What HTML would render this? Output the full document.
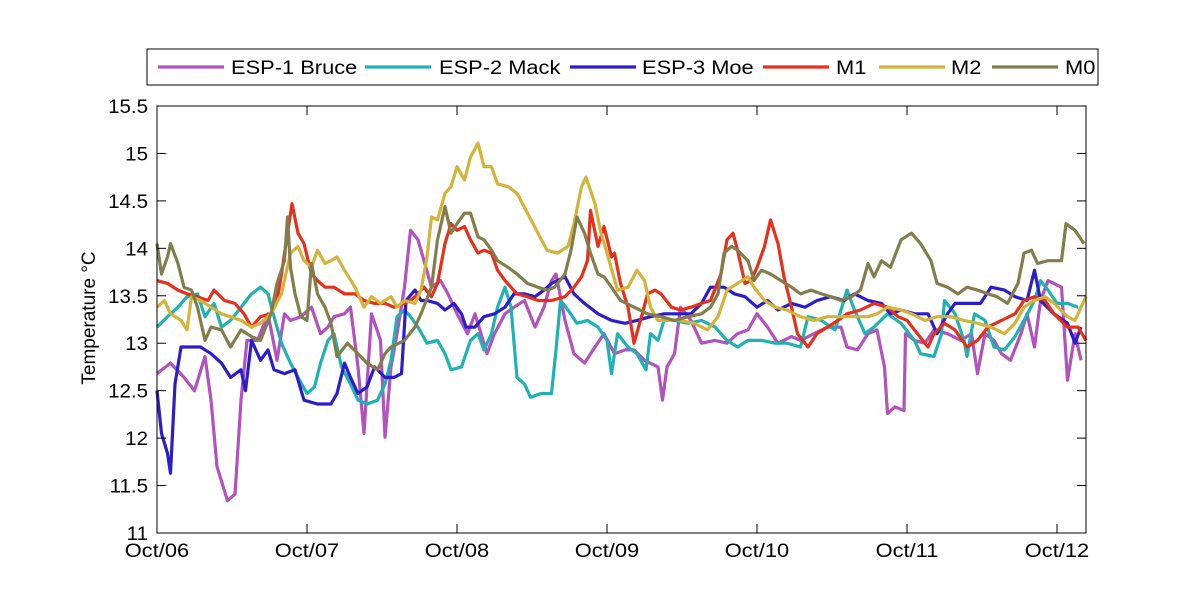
<!DOCTYPE html>
<html><head><meta charset="utf-8">
<style>
body{margin:0;background:#fff;}
svg text{font-family:"Liberation Sans",sans-serif;font-size:19px;fill:#000;}
</style></head>
<body>
<svg id="chart" width="1200" height="600" xmlns="http://www.w3.org/2000/svg">
<rect width="1200" height="600" fill="#fff"/>
<g id="series"></g>
<g id="axes"></g>
<g id="legend"></g>
</svg>
<script>
const xTickLabels=["Oct/06","Oct/07","Oct/08","Oct/09","Oct/10","Oct/11","Oct/12"];
const yTicks=[11,11.5,12,12.5,13,13.5,14,14.5,15,15.5];
const yTickLabels=["11","11.5","12","12.5","13","13.5","14","14.5","15","15.5"];
const seriesNames=["ESP-1 Bruce","ESP-2 Mack","ESP-3 Moe","M1","M2","M0"];
const seriesColors=["#b152bd","#20b2b2","#2c1dcc","#e6301c","#d3b43b","#837d4b"];

const bruceT=[0,.09,.18,.25,.32,.36,.40,.47,.52,.56,.60,.67,.74,.80,.85,.89,.96,1.03,1.09,1.14,1.18,1.25,1.29,1.34,1.38,1.43,1.49,1.52,1.56,1.60,1.65,1.69,1.74,1.78,1.83,1.89,1.94,2.0,2.07,2.12,2.16,2.20,2.25,2.32,2.38,2.45,2.52,2.58,2.63,2.66,2.72,2.78,2.85,2.92,2.98,
3.05,3.12,3.18,3.25,3.34,3.37,3.40,3.45,3.49,3.56,3.63,3.72,3.80,3.87,3.94,4.0,4.07,4.14,4.23,4.29,4.38,4.47,4.56,4.60,4.67,4.74,4.80,4.85,4.87,4.92,4.98,4.99,5.05,5.12,5.18,5.27,5.36,5.43,5.47,5.52,5.58,5.63,5.69,5.76,5.80,5.85,5.89,5.94,6.03,6.07,6.12,6.16];
const bruceV=[12.68,12.79,12.64,12.50,12.86,12.40,11.70,11.34,11.41,12.40,13.03,13.03,13.31,12.82,13.31,13.24,13.28,13.38,13.10,13.17,13.28,13.31,13.38,12.75,12.05,13.31,13.03,12.01,12.75,13.10,13.59,14.19,14.09,13.87,13.59,13.66,13.52,13.31,13.10,13.31,13.10,12.89,13.10,13.31,13.38,13.45,13.17,13.38,13.66,13.73,13.24,12.89,12.79,12.96,13.10,
12.89,12.93,12.93,12.82,12.75,12.40,12.75,12.89,13.38,13.24,13.0,13.03,13.0,13.10,13.14,13.31,13.17,13.0,13.07,13.03,13.10,13.17,13.17,12.96,12.93,13.10,13.14,12.75,12.26,12.33,12.29,13.10,13.03,13.0,13.14,13.10,13.03,13.10,12.68,13.10,13.03,12.89,12.82,13.10,13.31,12.96,13.45,13.66,13.59,12.61,13.10,12.82];

const mackT=[0,.07,.14,.20,.27,.32,.38,.43,.49,.56,.63,.69,.74,.78,.83,.89,.94,1.0,1.05,1.09,1.14,1.18,1.23,1.29,1.34,1.40,1.47,1.52,1.56,1.60,1.65,1.69,1.74,1.80,1.87,1.92,1.96,2.03,2.09,2.14,2.18,2.23,2.27,2.32,2.36,2.40,2.45,2.49,2.56,2.63,2.66,2.69,2.74,2.80,2.87,2.94,3.00,
3.03,3.07,3.14,3.20,3.26,3.29,3.34,3.38,3.45,3.54,3.63,3.72,3.80,3.87,3.94,4.03,4.12,4.20,4.29,4.34,4.43,4.52,4.60,4.65,4.72,4.78,4.87,4.96,5.05,5.09,5.18,5.23,5.25,5.32,5.38,5.40,5.45,5.52,5.58,5.65,5.72,5.78,5.85,5.89,5.94,6.0,6.07,6.14];
const mackV=[13.17,13.28,13.38,13.49,13.52,13.28,13.42,13.17,13.24,13.38,13.52,13.59,13.52,13.28,13.0,12.79,12.64,12.47,12.54,12.79,13.03,13.10,12.75,12.57,12.40,12.36,12.40,12.57,12.82,13.28,13.35,13.28,13.17,13.0,13.03,12.89,12.72,12.75,13.03,13.10,12.93,13.10,13.38,13.59,13.38,12.64,12.57,12.43,12.47,12.47,12.93,13.45,13.35,13.21,13.24,13.17,13.03,
12.68,13.10,12.96,12.89,12.72,13.10,13.03,13.24,13.24,13.21,13.24,13.17,13.03,12.96,13.03,13.03,13.0,13.0,12.96,13.28,13.24,13.14,13.56,13.35,13.10,13.17,13.31,13.21,13.03,12.89,12.86,13.10,13.45,13.31,13.03,12.86,13.31,13.24,12.96,12.93,13.07,13.24,13.45,13.66,13.56,13.42,13.42,13.38];

const moeT=[0,.03,.07,.09,.12,.16,.23,.29,.36,.43,.49,.56,.59,.63,.69,.74,.78,.85,.92,.98,1.07,1.16,1.20,1.25,1.29,1.34,1.40,1.45,1.52,1.58,1.63,1.66,1.72,1.76,1.80,1.87,1.92,1.98,2.03,2.06,2.12,2.18,2.25,2.32,2.38,2.45,2.52,2.58,2.63,2.67,2.72,2.78,2.85,2.94,3.03,
3.12,3.20,3.29,3.38,3.47,3.56,3.63,3.69,3.78,3.85,3.92,4.0,4.07,4.14,4.23,4.32,4.40,4.49,4.58,4.65,4.74,4.83,4.89,4.96,5.05,5.14,5.20,5.27,5.32,5.40,5.49,5.56,5.65,5.72,5.80,5.85,5.89,5.98,6.07,6.12,6.16];
const moeV=[12.50,12.05,11.84,11.63,12.57,12.96,12.96,12.96,12.89,12.79,12.64,12.72,12.50,13.03,12.82,12.93,12.72,12.68,12.72,12.40,12.36,12.36,12.47,12.79,12.64,12.47,12.54,12.75,12.64,12.64,12.68,13.45,13.56,13.45,13.45,13.42,13.35,13.42,13.31,13.17,13.17,13.28,13.31,13.38,13.52,13.52,13.49,13.56,13.63,13.66,13.70,13.52,13.42,13.31,13.24,
13.21,13.24,13.28,13.31,13.31,13.31,13.42,13.59,13.59,13.52,13.49,13.38,13.45,13.35,13.42,13.38,13.45,13.49,13.45,13.52,13.45,13.42,13.31,13.35,13.31,13.31,13.10,13.31,13.42,13.42,13.42,13.59,13.56,13.49,13.45,13.77,13.45,13.31,13.21,13.0,13.17];

const m1T=[0,.07,.14,.20,.27,.34,.38,.45,.52,.58,.63,.69,.76,.80,.83,.87,.90,.94,.98,1.03,1.07,1.12,1.18,1.25,1.32,1.38,1.45,1.52,1.58,1.65,1.69,1.74,1.78,1.83,1.87,1.92,1.96,2.0,2.05,2.09,2.14,2.18,2.23,2.27,2.32,2.36,2.40,2.47,2.54,2.63,2.72,2.78,2.83,2.87,2.89,2.94,2.98,3.03,
3.05,3.09,3.14,3.18,3.23,3.27,3.32,3.36,3.43,3.49,3.56,3.63,3.69,3.76,3.80,3.84,3.87,3.92,3.96,4.0,4.05,4.09,4.14,4.18,4.23,4.27,4.34,4.40,4.47,4.54,4.60,4.69,4.78,4.87,4.94,5.0,5.07,5.14,5.18,5.25,5.32,5.40,5.47,5.54,5.63,5.72,5.78,5.85,5.92,5.98,6.07,6.14,6.20];
const m1V=[13.66,13.63,13.56,13.52,13.49,13.45,13.56,13.45,13.42,13.31,13.17,13.28,13.31,13.45,13.73,14.16,14.47,14.16,14.05,13.73,13.66,13.59,13.59,13.52,13.52,13.45,13.42,13.42,13.38,13.42,13.45,13.52,13.59,13.49,13.63,14.05,14.26,14.19,14.23,14.09,13.95,13.98,13.95,13.77,13.66,13.59,13.52,13.49,13.45,13.45,13.49,13.59,13.70,13.87,14.40,14.02,14.23,13.91,
13.95,13.63,13.38,13.0,13.28,13.52,13.56,13.52,13.38,13.35,13.38,13.42,13.45,13.73,14.09,14.16,13.98,13.63,13.66,13.80,14.02,14.30,14.05,13.70,13.38,13.10,12.96,13.10,13.17,13.24,13.31,13.35,13.42,13.38,13.28,13.24,13.10,12.96,13.10,13.21,13.14,12.96,13.03,13.17,13.24,13.31,13.45,13.49,13.45,13.31,13.17,13.17,13.03];

const m2T=[0,.05,.09,.16,.20,.23,.29,.36,.43,.49,.56,.63,.69,.76,.83,.89,.94,.98,1.03,1.07,1.12,1.16,1.20,1.25,1.32,1.38,1.43,1.49,1.56,1.60,1.65,1.72,1.76,1.80,1.83,1.87,1.92,1.96,2.0,2.05,2.09,2.14,2.18,2.23,2.27,2.34,2.40,2.47,2.54,2.60,2.67,2.74,2.78,2.83,2.86,2.92,2.96,3.0,
3.07,3.14,3.20,3.25,3.29,3.34,3.40,3.49,3.58,3.67,3.74,3.80,3.87,3.94,3.98,4.05,4.12,4.20,4.29,4.38,4.47,4.56,4.65,4.74,4.80,4.87,4.96,5.03,5.12,5.20,5.29,5.38,5.47,5.56,5.65,5.72,5.78,5.85,5.92,5.98,6.07,6.12,6.16,6.20];
const m2V=[13.38,13.45,13.31,13.24,13.14,13.49,13.45,13.38,13.31,13.28,13.24,13.17,13.21,13.31,13.52,13.95,14.02,13.87,13.80,13.98,13.84,13.87,13.91,13.77,13.59,13.38,13.49,13.42,13.49,13.38,13.45,13.42,13.56,13.91,14.33,14.30,14.58,14.65,14.86,14.72,14.96,15.11,14.86,14.86,14.68,14.65,14.58,14.37,14.16,13.98,13.95,14.02,14.26,14.65,14.75,14.47,14.16,13.95,
13.56,13.59,13.77,13.66,13.38,13.24,13.24,13.24,13.21,13.14,13.28,13.56,13.63,13.70,13.59,13.45,13.38,13.35,13.28,13.24,13.28,13.28,13.28,13.28,13.31,13.38,13.35,13.31,13.24,13.28,13.28,13.24,13.21,13.17,13.10,13.21,13.38,13.45,13.49,13.42,13.28,13.24,13.38,13.49];

const m0T=[0,.03,.07,.09,.14,.18,.23,.27,.32,.36,.43,.49,.56,.63,.69,.76,.80,.85,.87,.89,.92,.96,1.0,1.03,1.07,1.12,1.16,1.20,1.27,1.34,1.40,1.47,1.52,1.56,1.65,1.72,1.76,1.83,1.87,1.92,1.96,2.0,2.05,2.09,2.14,2.18,2.23,2.27,2.34,2.40,2.47,2.54,2.60,2.65,2.72,2.76,2.80,2.85,2.89,2.94,2.98,3.03,3.09,
3.18,3.27,3.36,3.45,3.54,3.63,3.69,3.74,3.78,3.83,3.87,3.94,3.98,4.03,4.09,4.16,4.23,4.29,4.36,4.43,4.49,4.56,4.63,4.69,4.74,4.78,4.83,4.89,4.96,5.03,5.09,5.16,5.20,5.27,5.34,5.40,5.47,5.54,5.60,5.67,5.74,5.78,5.83,5.87,5.94,6.03,6.06,6.12,6.18];
const m0V=[14.05,13.73,13.91,14.05,13.84,13.59,13.56,13.38,13.03,13.17,13.14,12.96,13.14,13.07,13.03,13.31,13.63,13.87,14.33,13.80,13.52,13.28,13.24,13.84,13.52,13.38,13.21,12.86,13.0,12.89,12.79,12.72,12.89,12.96,13.03,13.17,13.31,13.59,14.09,14.44,14.16,14.26,14.37,14.37,14.12,14.09,13.98,13.87,13.80,13.73,13.63,13.59,13.56,13.59,13.73,13.98,14.33,14.16,13.95,13.73,13.70,13.59,13.45,
13.38,13.31,13.28,13.24,13.28,13.31,13.38,13.52,13.95,14.02,13.98,13.87,13.66,13.77,13.73,13.66,13.59,13.52,13.56,13.52,13.49,13.45,13.49,13.56,13.84,13.70,13.87,13.80,14.09,14.16,14.05,13.87,13.63,13.59,13.52,13.59,13.56,13.52,13.49,13.42,13.63,13.95,13.98,13.84,13.87,13.87,14.26,14.19,14.05];

const NS="http://www.w3.org/2000/svg";
const L=157,R=1086,T=106,B=533,XMAX=(R-L)/150;
function xs(t){return L+t*150;}
function ys(v){return B-(v-11)/4.5*(B-T);}
function mk(tag,attrs,parent){const e=document.createElementNS(NS,tag);for(const k in attrs)e.setAttribute(k,attrs[k]);parent.appendChild(e);return e;}
function widen(el,f){const w=el.getComputedTextLength();el.setAttribute('textLength',(w*f).toFixed(1));el.setAttribute('lengthAdjust','spacingAndGlyphs');}

const sg=document.getElementById('series');
const allT=[bruceT,mackT,moeT,m1T,m2T,m0T],allV=[bruceV,mackV,moeV,m1V,m2V,m0V];
const keys=["esp1-bruce","esp2-mack","esp3-moe","m1","m2","m0"];
for(let s=0;s<6;s++){
  const n=Math.min(allT[s].length,allV[s].length);let d="";
  for(let i=0;i<n;i++){const t=Math.min(allT[s][i],XMAX);d+=(i?"L":"M")+xs(t).toFixed(1)+","+ys(allV[s][i]).toFixed(1);}
  const p=mk('path',{d:d,fill:"none",stroke:seriesColors[s],"stroke-width":3.2,"stroke-linejoin":"round"},sg);
  
  
}

const ag=document.getElementById('axes');
const frame=mk('rect',{x:L,y:T,width:R-L,height:B-T,fill:"none",stroke:"#000","stroke-width":1},ag);


for(let i=0;i<xTickLabels.length;i++){
  const x=xs(i);
  mk('line',{x1:x,y1:B,x2:x,y2:B-9,stroke:"#000"},ag);
  mk('line',{x1:x,y1:T,x2:x,y2:T+9,stroke:"#000"},ag);
  const tx=mk('text',{x:x,y:557,"text-anchor":"middle"},ag);tx.textContent=xTickLabels[i];
  
  
  widen(tx,1.15);
}
for(let i=0;i<yTicks.length;i++){
  const y=ys(yTicks[i]);
  mk('line',{x1:L,y1:y,x2:L+9,y2:y,stroke:"#000"},ag);
  mk('line',{x1:R,y1:y,x2:R-9,y2:y,stroke:"#000"},ag);
  const ty=mk('text',{x:148,y:y+7,"text-anchor":"end"},ag);ty.textContent=yTickLabels[i];
  
  
  widen(ty,1.08);
}
const yt=mk('text',{x:0,y:0,"text-anchor":"middle",transform:"translate(95,318) rotate(-90)"},ag);
yt.textContent="Temperature °C";



const lg=document.getElementById('legend');
const box=mk('rect',{x:147,y:49,width:951,height:36,fill:"#fff",stroke:"#000"},lg);


const lineX=[158,365,570,763,879,992];
const textX=[231,439,642,836,951,1065];
for(let s=0;s<6;s++){
  const g=mk('g',{},lg);
  
  
  mk('line',{x1:lineX[s],y1:67,x2:lineX[s]+66,y2:67,stroke:seriesColors[s],"stroke-width":3.2},g);
  const t=mk('text',{x:textX[s],y:74},g);t.textContent=seriesNames[s];
  widen(t,1.15);
}
</script>
</body></html>
